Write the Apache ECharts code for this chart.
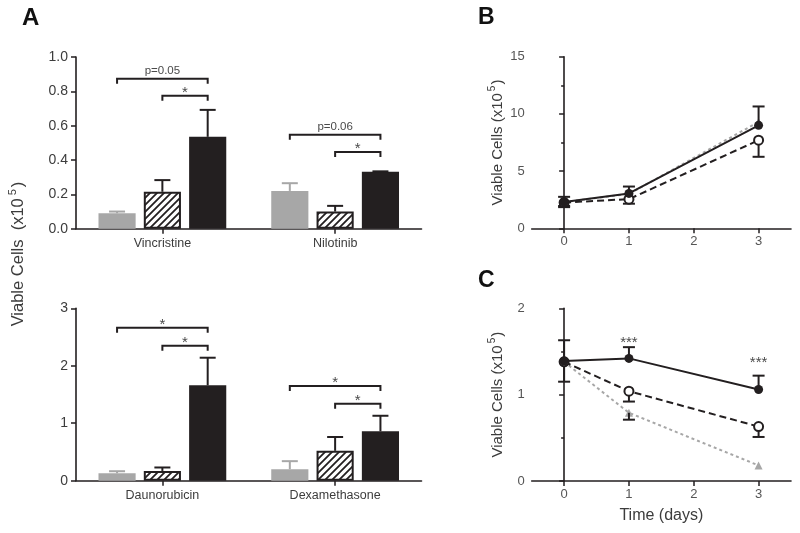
<!DOCTYPE html>
<html><head><meta charset="utf-8">
<script src="https://cdn.jsdelivr.net/npm/echarts@6/dist/echarts.min.js"></script>
<style>html,body{margin:0;padding:0;background:#fff}#c{width:800px;height:533px}</style>
</head><body><div id="c"></div>
<script>
// ---------- Panel A (top) ----------
const catsTop = ['Vincristine', 'Nilotinib'];
const topGray = [0.09, 0.22];
const topGrayErr = [0.01, 0.045];
const topHatch = [0.215, 0.10];
const topHatchErr = [0.068, 0.033];
const topBlack = [0.535, 0.332];
const topBlackErr = [0.157, 0.002];
const topBrCat = [0, 0, 1, 1];
const topBrFrom = [0, 1, 0, 1];
const topBrTo = [2, 2, 2, 2];
const topBrY = [0.874, 0.775, 0.547, 0.447];
const topBrLabel = ['p=0.05', '*', 'p=0.06', '*'];
// ---------- Panel A (bottom) ----------
const catsBot = ['Daunorubicin', 'Dexamethasone'];
const botGray = [0.13, 0.20];
const botGrayErr = [0.035, 0.14];
const botHatch = [0.17, 0.52];
const botHatchErr = [0.06, 0.24];
const botBlack = [1.66, 0.86];
const botBlackErr = [0.48, 0.27];
const botBrCat = [0, 0, 1, 1];
const botBrFrom = [0, 1, 0, 1];
const botBrTo = [2, 2, 2, 2];
const botBrY = [2.66, 2.35, 1.65, 1.34];
const botBrLabel = ['*', '*', '*', '*'];
// ---------- Panel B ----------
const timeDays = [0, 1, 3];
const xTicks = [0, 1, 2, 3];
const bSolid = [2.3, 3.05, 9.0];
const bSolidUp = [0.45, 0.6, 1.65];
const bSolidDown = [0.45, 0, 0];
const bOpen = [2.25, 2.55, 7.7];
const bOpenUp = [0, 0, 0];
const bOpenDown = [0.3, 0.4, 1.45];
const bGray = [2.3, 3.0, 9.3];
// ---------- Panel C ----------
const cSolid = [1.39, 1.42, 1.06];
const cSolidUp = [0.24, 0.13, 0.16];
const cSolidDown = [0.24, 0, 0];
const cOpen = [1.38, 1.04, 0.63];
const cOpenUp = [0, 0, 0];
const cOpenDown = [0, 0.12, 0.12];
const cGray = [1.38, 0.79, 0.18];
const cGrayUp = [0, 0, 0];
const cGrayDown = [0, 0.08, 0];
const cSigX = [1, 3];
const cSigY = [1.6, 1.37];
const cSigLabel = ['***', '***'];

const FONT = '"Liberation Sans", Arial, Helvetica, sans-serif';
const INK = '#231f20';
const GRAY = '#a7a7a7';
const LABEL = '#3c3c3c';
const BAR_W = 0.215;   // fraction of band
const BAR_GAP = 0.22;  // fraction of bar width

function makeHatch() {
  const s = 7;
  const c = document.createElement('canvas');
  c.width = s; c.height = s;
  const g = c.getContext('2d');
  g.fillStyle = '#fff'; g.fillRect(0, 0, s, s);
  g.strokeStyle = INK; g.lineWidth = 1.8;
  g.beginPath();
  g.moveTo(0, s); g.lineTo(s, 0);
  g.moveTo(-1, 1); g.lineTo(1, -1);
  g.moveTo(s - 1, s + 1); g.lineTo(s + 1, s - 1);
  g.stroke();
  return c;
}
const hatch = { image: makeHatch(), repeat: 'repeat' };

function barOffset(api, k) {
  const band = api.size([1, 0])[0];
  const bw = band * BAR_W;
  return (k - 1) * bw * (1 + BAR_GAP);
}

function barErrSeries(xi, vals, errs, k, color) {
  return {
    type: 'custom', xAxisIndex: xi, yAxisIndex: xi, z: 5,
    data: vals.map((v, i) => [i, v, errs[i], k]),
    renderItem: function (params, api) {
      const ci = api.value(0), v = api.value(1), e = api.value(2), kk = api.value(3);
      const p = api.coord([ci, v]);
      const t = api.coord([ci, v + e]);
      const x = p[0] + barOffset(api, kk);
      const cap = 8;
      return { type: 'group', children: [
        { type: 'line', shape: { x1: x, y1: p[1], x2: x, y2: t[1] }, style: { stroke: color, lineWidth: 2 } },
        { type: 'line', shape: { x1: x - cap, y1: t[1], x2: x + cap, y2: t[1] }, style: { stroke: color, lineWidth: 2 } }
      ]};
    }
  };
}

function bracketSeries(xi, cats, from, to, ys, labels) {
  return {
    type: 'custom', xAxisIndex: xi, yAxisIndex: xi, z: 6,
    data: cats.map((c, i) => [c, from[i], to[i], ys[i]]),
    renderItem: function (params, api) {
      const ci = api.value(0), f = api.value(1), tt = api.value(2), y = api.value(3);
      const p = api.coord([ci, y]);
      const x1 = p[0] + barOffset(api, f);
      const x2 = p[0] + barOffset(api, tt);
      const yy = p[1];
      const lab = labels[params.dataIndex];
      const isStar = lab === '*';
      return { type: 'group', children: [
        { type: 'polyline', shape: { points: [[x1, yy + 5], [x1, yy], [x2, yy], [x2, yy + 5]] },
          style: { stroke: INK, lineWidth: 2, fill: null } },
        { type: 'text', x: (x1 + x2) / 2, y: isStar ? yy - 3 : yy - 7.5,
          style: { text: lab, font: (isStar ? '15px ' : '11.5px ') + FONT, fill: '#4a4a4a',
                   align: 'center', verticalAlign: 'middle' } }
      ]};
    }
  };
}

function lineErrSeries(xi, xs, vals, up, down) {
  return {
    type: 'custom', xAxisIndex: xi, yAxisIndex: xi, z: 3,
    data: xs.map((x, i) => [x, vals[i], up[i], down[i]]),
    renderItem: function (params, api) {
      const x = api.value(0), v = api.value(1), u = api.value(2), d = api.value(3);
      const cap = 6;
      const ch = [];
      const p = api.coord([x, v]);
      if (u > 0) {
        const t = api.coord([x, v + u]);
        ch.push({ type: 'line', shape: { x1: p[0], y1: p[1], x2: p[0], y2: t[1] }, style: { stroke: INK, lineWidth: 2 } });
        ch.push({ type: 'line', shape: { x1: p[0] - cap, y1: t[1], x2: p[0] + cap, y2: t[1] }, style: { stroke: INK, lineWidth: 2 } });
      }
      if (d > 0) {
        const b = api.coord([x, v - d]);
        ch.push({ type: 'line', shape: { x1: p[0], y1: p[1], x2: p[0], y2: b[1] }, style: { stroke: INK, lineWidth: 2 } });
        ch.push({ type: 'line', shape: { x1: p[0] - cap, y1: b[1], x2: p[0] + cap, y2: b[1] }, style: { stroke: INK, lineWidth: 2 } });
      }
      return { type: 'group', children: ch };
    }
  };
}

function lineSeries(xi, vals, kind) {
  const data = timeDays.map((t, i) => [t, vals[i]]);
  if (kind === 'solid') return { type: 'line', xAxisIndex: xi, yAxisIndex: xi, data, z: 4,
    symbol: 'circle', symbolSize: 9, lineStyle: { color: INK, width: 2 }, itemStyle: { color: INK }, silent: true };
  if (kind === 'open') return { type: 'line', xAxisIndex: xi, yAxisIndex: xi, data, z: 4,
    symbol: 'circle', symbolSize: 9, lineStyle: { color: INK, width: 2, type: [7, 4] },
    itemStyle: { color: '#fff', borderColor: INK, borderWidth: 2 }, silent: true };
  return { type: 'line', xAxisIndex: xi, yAxisIndex: xi, data, z: 2,
    symbol: 'triangle', symbolSize: 8, lineStyle: { color: GRAY, width: 2, type: [3, 3] },
    itemStyle: { color: GRAY }, silent: true };
}

const axisLine = { show: true, lineStyle: { color: INK, width: 1.6 } };
const axisTick = { show: true, length: 5, lineStyle: { color: INK, width: 1.5 } };

const yTitleRich = {
  t: { fontSize: 15, fontFamily: FONT, color: LABEL },
  s: { fontSize: 10, fontFamily: FONT, color: LABEL, padding: [0, 1, 10, 2] }
};

const option = {
  animation: false,
  backgroundColor: '#fff',
  textStyle: { fontFamily: FONT },
  grid: [
    { left: 76, width: 345.5, top: 57, height: 171.7 },
    { left: 76, width: 345.5, top: 308.3, height: 172.4 },
    { left: 531.7, width: 259.3, top: 56.7, height: 171.6 },
    { left: 531.7, width: 259.3, top: 308.3, height: 172.7 }
  ],
  xAxis: [
    { gridIndex: 0, type: 'category', data: catsTop, axisLine, axisTick: Object.assign({ alignWithLabel: true }, axisTick),
      axisLabel: { color: LABEL, fontSize: 12.5, margin: 8, fontFamily: FONT } },
    { gridIndex: 1, type: 'category', data: catsBot, axisLine, axisTick: Object.assign({ alignWithLabel: true }, axisTick),
      axisLabel: { color: LABEL, fontSize: 12.5, margin: 8, fontFamily: FONT } },
    { gridIndex: 2, type: 'value', min: -0.5, max: 3.5, splitLine: { show: false }, axisLine,
      axisTick: Object.assign({ customValues: xTicks }, axisTick),
      axisLabel: { customValues: xTicks, color: '#555', fontSize: 13, margin: 7, fontFamily: FONT } },
    { gridIndex: 3, type: 'value', min: -0.5, max: 3.5, splitLine: { show: false }, axisLine,
      axisTick: Object.assign({ customValues: xTicks }, axisTick),
      axisLabel: { customValues: xTicks, color: '#555', fontSize: 13, margin: 7, fontFamily: FONT },
      name: 'Time (days)', nameLocation: 'middle', nameGap: 27,
      nameTextStyle: { fontSize: 16, color: LABEL, fontFamily: FONT } }
  ],
  yAxis: [
    { gridIndex: 0, type: 'value', min: 0, max: 1, interval: 0.2, splitLine: { show: false }, axisLine, axisTick,
      axisLabel: { color: LABEL, fontSize: 14, margin: 8, fontFamily: FONT, formatter: v => v.toFixed(1) } },
    { gridIndex: 1, type: 'value', min: 0, max: 3, interval: 1, splitLine: { show: false }, axisLine, axisTick,
      axisLabel: { color: LABEL, fontSize: 14, margin: 8, fontFamily: FONT } },
    { gridIndex: 2, type: 'value', min: 0, max: 15, interval: 5, splitLine: { show: false }, axisLine, axisTick,
      minorTick: { show: true, splitNumber: 2, length: 3, lineStyle: { color: INK, width: 1.5 } },
      axisLabel: { color: '#555', fontSize: 13, margin: 7, fontFamily: FONT },
      name: '{t|Viable Cells (x10}{s|5}{t|)}', nameLocation: 'middle', nameGap: 24, nameRotate: 90,
      nameTextStyle: { rich: yTitleRich } },
    { gridIndex: 3, type: 'value', min: 0, max: 2, interval: 1, splitLine: { show: false }, axisLine, axisTick,
      minorTick: { show: true, splitNumber: 2, length: 3, lineStyle: { color: INK, width: 1.5 } },
      axisLabel: { color: '#555', fontSize: 13, margin: 7, fontFamily: FONT },
      name: '{t|Viable Cells (x10}{s|5}{t|)}', nameLocation: 'middle', nameGap: 24, nameRotate: 90,
      nameTextStyle: { rich: yTitleRich } }
  ],
  graphic: [
    { type: 'text', x: 22, y: 18, style: { text: 'A', font: 'bold 24px ' + FONT, fill: '#111', verticalAlign: 'middle' } },
    { type: 'text', x: 478, y: 18, style: { text: 'B', font: 'bold 23px ' + FONT, fill: '#111', verticalAlign: 'middle' } },
    { type: 'text', x: 478, y: 281, style: { text: 'C', font: 'bold 23px ' + FONT, fill: '#111', verticalAlign: 'middle' } },
    { type: 'text', x: 18, y: 254, rotation: Math.PI / 2,
      style: { text: '{t|Viable Cells  (x10}{s|5}{t|)}', align: 'center', verticalAlign: 'middle',
        rich: {
          t: { fontSize: 16.5, fontFamily: FONT, fill: LABEL },
          s: { fontSize: 11, fontFamily: FONT, fill: LABEL, padding: [0, 2, 11, 3] }
        } } }
  ],
  series: [
    { type: 'bar', xAxisIndex: 0, yAxisIndex: 0, data: topGray, barWidth: (BAR_W * 100) + '%', barGap: (BAR_GAP * 100) + '%', itemStyle: { color: GRAY } },
    { type: 'bar', xAxisIndex: 0, yAxisIndex: 0, data: topHatch, barWidth: (BAR_W * 100) + '%', barGap: (BAR_GAP * 100) + '%', itemStyle: { color: hatch, borderColor: INK, borderWidth: 2 } },
    { type: 'bar', xAxisIndex: 0, yAxisIndex: 0, data: topBlack, barWidth: (BAR_W * 100) + '%', barGap: (BAR_GAP * 100) + '%', itemStyle: { color: INK } },
    barErrSeries(0, topGray, topGrayErr, 0, GRAY),
    barErrSeries(0, topHatch, topHatchErr, 1, INK),
    barErrSeries(0, topBlack, topBlackErr, 2, INK),
    bracketSeries(0, topBrCat, topBrFrom, topBrTo, topBrY, topBrLabel),

    { type: 'bar', xAxisIndex: 1, yAxisIndex: 1, data: botGray, barWidth: (BAR_W * 100) + '%', barGap: (BAR_GAP * 100) + '%', itemStyle: { color: GRAY } },
    { type: 'bar', xAxisIndex: 1, yAxisIndex: 1, data: botHatch, barWidth: (BAR_W * 100) + '%', barGap: (BAR_GAP * 100) + '%', itemStyle: { color: hatch, borderColor: INK, borderWidth: 2 } },
    { type: 'bar', xAxisIndex: 1, yAxisIndex: 1, data: botBlack, barWidth: (BAR_W * 100) + '%', barGap: (BAR_GAP * 100) + '%', itemStyle: { color: INK } },
    barErrSeries(1, botGray, botGrayErr, 0, GRAY),
    barErrSeries(1, botHatch, botHatchErr, 1, INK),
    barErrSeries(1, botBlack, botBlackErr, 2, INK),
    bracketSeries(1, botBrCat, botBrFrom, botBrTo, botBrY, botBrLabel),

    lineSeries(2, bGray, 'gray'),
    lineSeries(2, bOpen, 'open'),
    lineSeries(2, bSolid, 'solid'),
    lineErrSeries(2, timeDays, bSolid, bSolidUp, bSolidDown),
    lineErrSeries(2, timeDays, bOpen, bOpenUp, bOpenDown),

    lineSeries(3, cGray, 'gray'),
    lineSeries(3, cOpen, 'open'),
    lineSeries(3, cSolid, 'solid'),
    lineErrSeries(3, timeDays, cSolid, cSolidUp, cSolidDown),
    lineErrSeries(3, timeDays, cOpen, cOpenUp, cOpenDown),
    lineErrSeries(3, timeDays, cGray, cGrayUp, cGrayDown),
    {
      type: 'custom', xAxisIndex: 3, yAxisIndex: 3, z: 6,
      data: cSigX.map((x, i) => [x, cSigY[i]]),
      renderItem: function (params, api) {
        const p = api.coord([api.value(0), api.value(1)]);
        return { type: 'text', x: p[0], y: p[1],
          style: { text: cSigLabel[params.dataIndex], font: '15px ' + FONT, fill: '#4a4a4a', align: 'center', verticalAlign: 'middle' } };
      }
    }
  ]
};

const chart = echarts.init(document.getElementById('c'), null, { renderer: 'canvas' });
chart.setOption(option);
</script>
</body></html>
